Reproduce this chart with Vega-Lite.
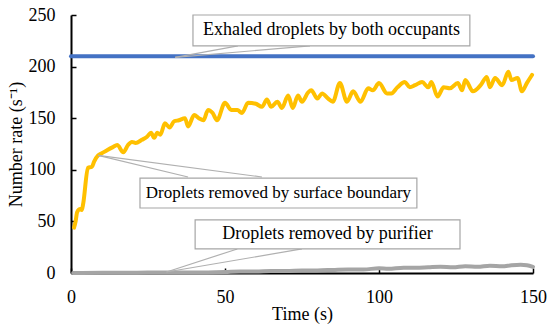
{
  "$schema": "https://vega.github.io/schema/vega-lite/v6.json",
  "width": 462,
  "height": 258,
  "autosize": {"type": "none"},
  "padding": {"left": 71, "top": 15, "right": 17, "bottom": 58},
  "background": "white",
  "config": {
    "view": {"stroke": null},
    "font": "Liberation Serif",
    "axis": {"grid": false, "labelFlush": false, "labelOverlap": false, "domainColor": "black", "domainWidth": 2, "tickColor": "black", "tickWidth": 1.5, "labelFont": "Liberation Serif", "titleFont": "Liberation Serif", "labelFontSize": 18, "titleFontSize": 18, "labelColor": "black", "titleColor": "black", "titleFontWeight": "normal"}
  },
  "datasets": {
    "series": [
      {"t": 0, "rate": 210, "series": "Exhaled"},
      {"t": 150, "rate": 210, "series": "Exhaled"},
      {"t": 1, "rate": 44, "series": "Surface"},
      {"t": 1.5, "rate": 50, "series": "Surface"},
      {"t": 2, "rate": 59, "series": "Surface"},
      {"t": 3, "rate": 62, "series": "Surface"},
      {"t": 3.5, "rate": 61, "series": "Surface"},
      {"t": 4, "rate": 68, "series": "Surface"},
      {"t": 5.5, "rate": 102, "series": "Surface"},
      {"t": 6.8, "rate": 103, "series": "Surface"},
      {"t": 7.5, "rate": 108, "series": "Surface"},
      {"t": 8.8, "rate": 114, "series": "Surface"},
      {"t": 10, "rate": 116, "series": "Surface"},
      {"t": 11.7, "rate": 119, "series": "Surface"},
      {"t": 13.6, "rate": 122, "series": "Surface"},
      {"t": 15, "rate": 124, "series": "Surface"},
      {"t": 17, "rate": 117, "series": "Surface"},
      {"t": 18.5, "rate": 124, "series": "Surface"},
      {"t": 19.8, "rate": 127, "series": "Surface"},
      {"t": 21, "rate": 126, "series": "Surface"},
      {"t": 23, "rate": 129, "series": "Surface"},
      {"t": 24.7, "rate": 132, "series": "Surface"},
      {"t": 26, "rate": 136, "series": "Surface"},
      {"t": 27, "rate": 131, "series": "Surface"},
      {"t": 28, "rate": 136, "series": "Surface"},
      {"t": 29, "rate": 134, "series": "Surface"},
      {"t": 30.5, "rate": 145, "series": "Surface"},
      {"t": 32, "rate": 141, "series": "Surface"},
      {"t": 33.5, "rate": 147, "series": "Surface"},
      {"t": 35, "rate": 148, "series": "Surface"},
      {"t": 37, "rate": 150, "series": "Surface"},
      {"t": 38, "rate": 142, "series": "Surface"},
      {"t": 40, "rate": 153, "series": "Surface"},
      {"t": 41.5, "rate": 150, "series": "Surface"},
      {"t": 43, "rate": 148, "series": "Surface"},
      {"t": 44.5, "rate": 158, "series": "Surface"},
      {"t": 46, "rate": 155, "series": "Surface"},
      {"t": 47.4, "rate": 148, "series": "Surface"},
      {"t": 50, "rate": 165, "series": "Surface"},
      {"t": 52, "rate": 158, "series": "Surface"},
      {"t": 54, "rate": 158, "series": "Surface"},
      {"t": 55.5, "rate": 155, "series": "Surface"},
      {"t": 57.5, "rate": 165, "series": "Surface"},
      {"t": 60, "rate": 164, "series": "Surface"},
      {"t": 62, "rate": 161, "series": "Surface"},
      {"t": 63.6, "rate": 168, "series": "Surface"},
      {"t": 65, "rate": 161, "series": "Surface"},
      {"t": 67, "rate": 166, "series": "Surface"},
      {"t": 68.5, "rate": 160, "series": "Surface"},
      {"t": 70.5, "rate": 172, "series": "Surface"},
      {"t": 72, "rate": 160, "series": "Surface"},
      {"t": 73.7, "rate": 172, "series": "Surface"},
      {"t": 75, "rate": 166, "series": "Surface"},
      {"t": 77, "rate": 175, "series": "Surface"},
      {"t": 78, "rate": 177, "series": "Surface"},
      {"t": 80, "rate": 169, "series": "Surface"},
      {"t": 81.5, "rate": 174, "series": "Surface"},
      {"t": 83.5, "rate": 169, "series": "Surface"},
      {"t": 85, "rate": 166, "series": "Surface"},
      {"t": 87.3, "rate": 184, "series": "Surface"},
      {"t": 89.6, "rate": 166, "series": "Surface"},
      {"t": 91.6, "rate": 176, "series": "Surface"},
      {"t": 94, "rate": 166, "series": "Surface"},
      {"t": 96.5, "rate": 179, "series": "Surface"},
      {"t": 98, "rate": 177, "series": "Surface"},
      {"t": 100, "rate": 184, "series": "Surface"},
      {"t": 102.6, "rate": 174, "series": "Surface"},
      {"t": 104, "rate": 174, "series": "Surface"},
      {"t": 106, "rate": 180, "series": "Surface"},
      {"t": 108.4, "rate": 185, "series": "Surface"},
      {"t": 110, "rate": 180, "series": "Surface"},
      {"t": 111.7, "rate": 182, "series": "Surface"},
      {"t": 114, "rate": 185, "series": "Surface"},
      {"t": 116, "rate": 180, "series": "Surface"},
      {"t": 117, "rate": 185, "series": "Surface"},
      {"t": 119, "rate": 171, "series": "Surface"},
      {"t": 121, "rate": 180, "series": "Surface"},
      {"t": 123, "rate": 179, "series": "Surface"},
      {"t": 125.6, "rate": 184, "series": "Surface"},
      {"t": 127, "rate": 177, "series": "Surface"},
      {"t": 128, "rate": 187, "series": "Surface"},
      {"t": 130.5, "rate": 176, "series": "Surface"},
      {"t": 133, "rate": 182, "series": "Surface"},
      {"t": 135, "rate": 190, "series": "Surface"},
      {"t": 136, "rate": 180, "series": "Surface"},
      {"t": 137.7, "rate": 189, "series": "Surface"},
      {"t": 140, "rate": 182, "series": "Surface"},
      {"t": 142, "rate": 195, "series": "Surface"},
      {"t": 143, "rate": 187, "series": "Surface"},
      {"t": 145, "rate": 189, "series": "Surface"},
      {"t": 146.4, "rate": 176, "series": "Surface"},
      {"t": 148, "rate": 184, "series": "Surface"},
      {"t": 149.7, "rate": 192, "series": "Surface"},
      {"t": 0.7, "rate": 0, "series": "Purifier"},
      {"t": 10, "rate": 0.3, "series": "Purifier"},
      {"t": 20, "rate": 0.3, "series": "Purifier"},
      {"t": 30, "rate": 0.5, "series": "Purifier"},
      {"t": 40, "rate": 0.5, "series": "Purifier"},
      {"t": 50, "rate": 1, "series": "Purifier"},
      {"t": 55, "rate": 1.5, "series": "Purifier"},
      {"t": 60, "rate": 1.5, "series": "Purifier"},
      {"t": 65, "rate": 2, "series": "Purifier"},
      {"t": 70, "rate": 2, "series": "Purifier"},
      {"t": 75, "rate": 2.5, "series": "Purifier"},
      {"t": 80, "rate": 2.5, "series": "Purifier"},
      {"t": 85, "rate": 3, "series": "Purifier"},
      {"t": 90, "rate": 3.5, "series": "Purifier"},
      {"t": 95, "rate": 3.5, "series": "Purifier"},
      {"t": 100, "rate": 4.5, "series": "Purifier"},
      {"t": 103, "rate": 4, "series": "Purifier"},
      {"t": 108, "rate": 5, "series": "Purifier"},
      {"t": 112, "rate": 5, "series": "Purifier"},
      {"t": 116, "rate": 5.5, "series": "Purifier"},
      {"t": 120, "rate": 6, "series": "Purifier"},
      {"t": 124, "rate": 5.5, "series": "Purifier"},
      {"t": 128, "rate": 6.5, "series": "Purifier"},
      {"t": 132, "rate": 6, "series": "Purifier"},
      {"t": 136, "rate": 7, "series": "Purifier"},
      {"t": 140, "rate": 6.5, "series": "Purifier"},
      {"t": 143, "rate": 7.5, "series": "Purifier"},
      {"t": 146, "rate": 8, "series": "Purifier"},
      {"t": 148, "rate": 7.5, "series": "Purifier"},
      {"t": 150, "rate": 6, "series": "Purifier"}
    ],
    "boxes": [
      {"x1": 39.6, "x2": 129.5, "y1": 220, "y2": 250, "label": "Exhaled droplets by both occupants"},
      {"x1": 22.4, "x2": 112.3, "y1": 63, "y2": 92, "label": "Droplets removed by surface boundary"},
      {"x1": 40.3, "x2": 126.3, "y1": 23.3, "y2": 51.4, "label": "Droplets removed  by purifier"}
    ],
    "pointers": [
      {"x1": 33.8, "y1": 209, "x2": 54.2, "y2": 220},
      {"x1": 33.8, "y1": 209, "x2": 77.6, "y2": 220},
      {"x1": 8.8, "y1": 114, "x2": 38, "y2": 93},
      {"x1": 8.8, "y1": 114, "x2": 62, "y2": 93},
      {"x1": 31, "y1": 1, "x2": 54, "y2": 23.3},
      {"x1": 31, "y1": 1, "x2": 75, "y2": 23.3}
    ]
  },
  "layer": [
    {
      "data": {"name": "series"},
      "mark": {"type": "line", "strokeWidth": 4, "strokeJoin": "round", "strokeCap": "round", "interpolate": "monotone"},
      "encoding": {
        "x": {"field": "t", "type": "quantitative", "scale": {"domain": [0, 150], "nice": false}, "axis": {"values": [0, 50, 100, 150], "title": "Time (s)", "tickSize": -5, "labelPadding": 20, "titlePadding": -1}},
        "y": {"field": "rate", "type": "quantitative", "scale": {"domain": [0, 250], "nice": false}, "axis": {"values": [0, 50, 100, 150, 200, 250], "title": "Number rate (s⁻¹)", "tickSize": -5, "labelPadding": 21, "titlePadding": 3}},
        "color": {"field": "series", "type": "nominal", "scale": {"domain": ["Exhaled", "Surface", "Purifier"], "range": ["#4472C4", "#FFC000", "#A5A5A5"]}, "legend": null},
        "order": {"field": "t", "type": "quantitative"}
      }
    },
    {
      "data": {"name": "pointers"},
      "mark": {"type": "rule", "color": "#B0B0B0", "strokeWidth": 1.2},
      "encoding": {
        "x": {"field": "x1", "type": "quantitative"},
        "y": {"field": "y1", "type": "quantitative"},
        "x2": {"field": "x2"},
        "y2": {"field": "y2"}
      }
    },
    {
      "data": {"name": "boxes"},
      "mark": {"type": "rect", "fill": "white", "stroke": "#A6A6A6", "strokeWidth": 1.2},
      "encoding": {
        "x": {"field": "x1", "type": "quantitative"},
        "x2": {"field": "x2"},
        "y": {"field": "y1", "type": "quantitative"},
        "y2": {"field": "y2"}
      }
    },
    {
      "data": {"name": "boxes"},
      "transform": [{"calculate": "(datum.x1 + datum.x2) / 2", "as": "cx"}, {"calculate": "(datum.y1 + datum.y2) / 2", "as": "cy"}],
      "mark": {"type": "text", "font": "Liberation Serif", "color": "black", "align": "center", "baseline": "middle"},
      "encoding": {
        "x": {"field": "cx", "type": "quantitative"},
        "y": {"field": "cy", "type": "quantitative"},
        "text": {"field": "label"},
        "size": {"condition": {"test": "datum.label == 'Droplets removed by surface boundary'", "value": 17}, "value": 18}
      }
    }
  ]
}
